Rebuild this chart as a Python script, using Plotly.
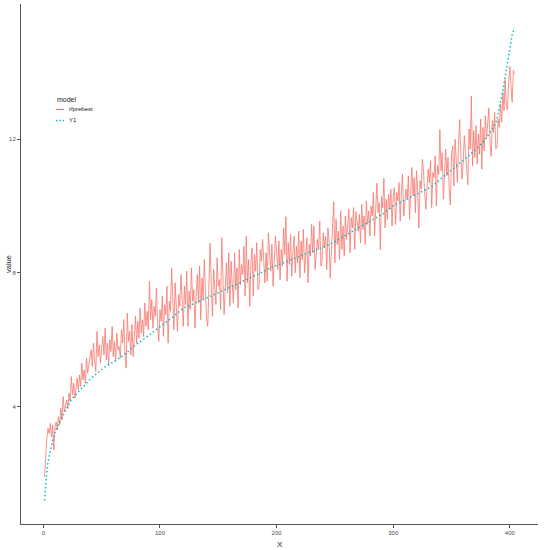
import plotly.graph_objects as go

# ---- data ----
y1_values = [
    1.20, 1.75, 2.05, 2.35, 2.55, 2.70, 2.85, 3.00, 3.15, 3.25,
    3.33, 3.40, 3.48, 3.55, 3.62, 3.70, 3.77, 3.84, 3.91, 3.98,
    4.05, 4.12, 4.18, 4.22, 4.26, 4.29, 4.33, 4.36, 4.40, 4.44,
    4.48, 4.52, 4.56, 4.60, 4.63, 4.67, 4.71, 4.75, 4.79,
    4.82, 4.85, 4.88, 4.91, 4.94, 4.96, 4.99, 5.02, 5.05, 5.08, 5.10, 5.13, 5.16, 5.19,
    5.21, 5.23, 5.25, 5.27, 5.29, 5.31, 5.33, 5.36, 5.38, 5.40, 5.42, 5.44, 5.46, 5.49,
    5.52, 5.55, 5.58, 5.61, 5.64, 5.66, 5.69, 5.72, 5.75, 5.78, 5.80, 5.83, 5.86, 5.89,
    5.92, 5.94, 5.97, 6.00, 6.02, 6.05, 6.07, 6.10, 6.12, 6.15, 6.17, 6.20, 6.22, 6.25, 6.27, 6.30,
    6.33, 6.35, 6.38, 6.41, 6.44, 6.47, 6.49, 6.52, 6.55, 6.58, 6.61, 6.63, 6.66, 6.69, 6.72,
    6.75, 6.77, 6.80, 6.83, 6.86, 6.89, 6.91, 6.94,
    6.96, 6.97, 6.99, 7.00, 7.02, 7.03, 7.05, 7.06, 7.08, 7.09, 7.11, 7.13, 7.14, 7.16, 7.17,
    7.19, 7.20, 7.22, 7.24, 7.25, 7.27, 7.28, 7.30, 7.31, 7.33, 7.34, 7.36, 7.37, 7.39,
    7.41, 7.42, 7.44, 7.46, 7.47, 7.49, 7.50, 7.52, 7.54, 7.55, 7.57, 7.58, 7.60, 7.62,
    7.63, 7.65, 7.66, 7.68, 7.70, 7.71, 7.73, 7.74, 7.76, 7.78, 7.79, 7.81, 7.82, 7.84,
    7.86, 7.88, 7.89, 7.91, 7.93, 7.95, 7.96, 7.98, 8.00, 8.02, 8.03, 8.05, 8.07, 8.09,
    8.10, 8.12, 8.14, 8.15,
    8.17, 8.18, 8.19, 8.21, 8.22, 8.24, 8.25, 8.26, 8.28, 8.29, 8.31, 8.32, 8.33, 8.35,
    8.36, 8.37, 8.39, 8.40, 8.41, 8.43, 8.44,
    8.45, 8.47, 8.48, 8.50, 8.51, 8.52, 8.54, 8.55, 8.57, 8.58, 8.59, 8.61, 8.62, 8.63,
    8.65, 8.66, 8.68, 8.69, 8.70, 8.72, 8.73, 8.74, 8.76, 8.77, 8.79, 8.80, 8.81, 8.83, 8.84,
    8.86, 8.88, 8.90, 8.92, 8.94, 8.96, 8.98, 9.00, 9.02, 9.04, 9.06, 9.07, 9.09, 9.11,
    9.13, 9.15, 9.17, 9.19, 9.21, 9.23, 9.25, 9.27, 9.29, 9.31, 9.33, 9.34, 9.36, 9.38,
    9.40, 9.42, 9.44, 9.46, 9.48, 9.50, 9.52, 9.54, 9.56, 9.58, 9.61, 9.63, 9.65, 9.67,
    9.69, 9.71, 9.73,
    9.76, 9.78, 9.81, 9.84, 9.87, 9.90, 9.92, 9.95, 9.98,
    10.00, 10.02, 10.03, 10.05, 10.07, 10.09, 10.10, 10.12, 10.14, 10.16, 10.17, 10.19,
    10.21, 10.23, 10.24, 10.26, 10.28,
    10.30, 10.31, 10.33, 10.35, 10.37, 10.38, 10.40, 10.42, 10.44, 10.45, 10.47, 10.49,
    10.51, 10.52, 10.54, 10.56, 10.58,
    10.61, 10.64, 10.67, 10.70, 10.73, 10.76, 10.79, 10.82, 10.85, 10.88, 10.90, 10.93,
    10.96, 10.99, 11.02, 11.05, 11.08,
    11.11, 11.14, 11.16, 11.19, 11.22, 11.25, 11.28, 11.30, 11.33, 11.36, 11.39, 11.42,
    11.44, 11.47, 11.50, 11.53, 11.55, 11.58,
    11.62, 11.65, 11.69, 11.73, 11.76, 11.80, 11.84, 11.87, 11.91, 11.95, 11.98,
    12.04, 12.09, 12.15, 12.20, 12.26, 12.31, 12.37, 12.42, 12.48,
    12.60, 12.75, 12.92, 13.08, 13.25, 13.43,
    13.65, 13.86, 14.07, 14.30, 14.54, 14.77, 14.95, 15.12, 15.22, 15.33,
]

rfprebest_values = [
    1.90, 2.55, 3.05, 3.35, 3.20, 3.50, 3.10, 3.45, 2.70, 3.40,
    3.55, 3.30, 3.70, 3.45, 3.95, 3.60, 4.30, 3.85, 4.00, 4.20,
    3.95, 4.40, 4.15, 4.90, 4.35, 4.70, 4.25, 4.60, 4.85, 4.50,
    4.95, 4.60, 5.30, 4.80, 5.10, 4.70, 5.45, 5.00, 5.25, 5.60,
    5.70, 5.20, 5.90, 5.35, 5.05, 6.25, 5.50, 5.85, 5.30, 5.75,
    6.10, 5.55, 6.35, 5.40, 5.90, 5.25, 6.00, 5.65, 6.40, 5.50,
    5.95, 5.35, 6.20, 5.70, 5.80, 5.45, 6.30, 5.90, 6.60, 5.60,
    5.15, 6.80, 5.95, 6.25, 5.55, 6.45, 5.50, 6.10, 6.70, 5.90,
    6.55, 6.05, 6.95, 6.20, 6.60, 6.10, 7.10, 6.40, 6.85, 6.30,
    7.75, 6.60, 7.20, 6.35, 7.00, 6.70, 7.55, 6.50, 5.95, 6.90,
    6.55, 7.30, 6.10, 7.05, 6.75, 7.60, 5.90, 7.15, 6.85, 8.15,
    7.40, 6.30, 7.70, 7.10, 6.25, 7.35, 7.00, 7.95, 6.95, 6.40,
    7.60, 7.05, 8.05, 6.40, 7.45, 6.90, 8.15, 7.15, 7.50, 6.35,
    7.30, 7.95, 7.10, 8.20, 6.60, 7.85, 7.20, 8.40, 7.45, 6.60,
    6.40, 7.50, 8.89, 7.65, 6.70, 8.10, 7.55, 7.05, 8.45, 7.60,
    7.80, 6.90, 9.05, 7.85, 6.75, 7.55, 8.30, 7.40, 8.60, 7.00,
    8.35, 7.60, 7.10, 8.60, 7.50, 8.15, 6.95, 8.70, 7.65, 8.25,
    7.95, 8.80, 7.30, 9.10, 7.70, 8.40, 7.00, 8.30, 8.75, 7.30,
    8.55, 8.05, 8.90, 7.50, 7.60, 8.70, 8.35, 9.00, 8.45, 7.70,
    8.60, 7.75, 9.20, 8.40, 8.05, 8.85, 7.60, 8.30, 9.10, 8.65,
    8.10, 8.95, 7.80, 8.70, 8.20, 9.35, 8.55, 9.68, 7.75, 8.90,
    8.25, 9.15, 7.90, 8.60, 9.10, 8.00, 8.80, 8.30, 9.25, 7.85,
    8.95, 8.40, 9.30, 8.00, 8.55, 9.05, 7.70, 8.85, 8.50, 9.45,
    8.60, 9.40, 8.10, 8.45, 9.00, 8.70, 9.55, 8.20, 8.35, 9.20,
    8.75, 9.10, 8.10, 9.35, 8.95, 7.85, 8.80, 9.45, 10.13, 8.30,
    9.60, 8.85, 9.25, 8.40, 9.85, 8.70, 9.40, 8.50, 9.70, 9.00,
    9.45, 9.90, 8.60, 9.65, 9.35, 9.95, 8.70, 9.83, 9.55, 9.25,
    9.75, 8.90, 10.05, 9.30, 9.70, 8.85, 10.15, 9.45, 9.85, 9.10,
    10.00, 9.70, 10.40, 9.10, 9.90, 10.68, 9.80, 10.10, 8.69, 10.28,
    9.95, 10.83, 9.35, 10.20, 9.60, 10.35, 9.90, 10.50, 9.40, 10.30,
    10.55, 9.45, 10.40, 10.15, 10.70, 9.55, 10.45, 10.95, 9.70, 10.10,
    10.50, 10.20, 10.90, 9.60, 10.45, 11.15, 10.30, 10.85, 9.80, 11.05,
    10.40, 9.34, 10.75, 10.50, 11.40, 11.03, 10.35, 9.90, 10.55, 11.10,
    10.70, 11.35, 9.95, 11.00, 10.85, 11.50, 10.00, 11.20, 10.95, 12.28,
    11.05, 11.60, 10.20, 11.30, 11.70, 10.90, 11.45, 10.50, 10.03, 11.55,
    11.80, 10.60, 12.00, 11.40, 10.70, 11.85, 12.58, 11.50, 10.80, 11.30,
    12.10, 11.60, 10.95, 10.63, 12.30, 11.70, 13.28, 11.20, 12.25, 11.45,
    12.40, 11.25, 12.15, 11.55, 12.60, 11.10, 12.35, 11.65, 12.70, 12.05,
    12.45, 12.93, 11.90, 11.48, 12.55, 12.20, 12.80, 11.70, 11.75, 12.60,
    12.35, 13.05, 12.50, 13.40, 12.85, 13.78, 13.00, 12.88, 13.72, 14.17,
    13.60, 13.10, 14.05, 13.95,
]

series_names = ["rfprebest", "Y1"]
series_colors = ["#F8766D", "#00BFC4"]
x_ticks = [0, 100, 200, 300, 400]
y_ticks = [4, 8, 12]

FONT = "Liberation Sans, Arial, sans-serif"

x_rf = list(range(1, len(rfprebest_values) + 1))
x_y1 = list(range(1, len(y1_values) + 1))

fig = go.Figure()
fig.add_trace(go.Scatter(
    x=x_rf, y=rfprebest_values, mode="lines", name=series_names[0],
    line=dict(color=series_colors[0], width=0.8),
))
fig.add_trace(go.Scatter(
    x=x_y1, y=y1_values, mode="lines", name=series_names[1],
    line=dict(color=series_colors[1], width=1.5, dash="1.5px,2.5px"),
))

# ggplot-like 5% expansion
all_y = rfprebest_values + y1_values
ymin, ymax = min(all_y), max(all_y)
ypad = 0.05 * (ymax - ymin)
n = max(len(x_rf), len(x_y1))
xpad = 0.05 * (n - 1)

axis_common = dict(
    showgrid=False, zeroline=False, showline=True, linecolor="#555555", linewidth=1,
    ticks="outside", ticklen=3, tickwidth=1, tickcolor="#555555",
    tickfont=dict(family=FONT, size=6, color="#4D4D4D"),
    mirror=False, automargin=False,
)

fig.update_layout(
    width=546, height=550,
    margin=dict(l=21, r=8, t=4, b=26),
    paper_bgcolor="white", plot_bgcolor="white",
    showlegend=False,
    hovermode=False,
    font=dict(family=FONT),
    xaxis=dict(range=[1 - xpad, n + xpad], tickvals=x_ticks,
               ticktext=[str(v) for v in x_ticks], **axis_common),
    yaxis=dict(range=[ymin - ypad, ymax + ypad], tickvals=y_ticks,
               ticktext=[str(v) for v in y_ticks], **axis_common),
)

# axis titles
fig.add_annotation(text="X", xref="paper", yref="paper", x=0.5, y=0,
                   yshift=-14, showarrow=False, yanchor="top",
                   font=dict(family=FONT, size=8, color="#222222"))
fig.add_annotation(text="value", xref="paper", yref="paper", x=0, y=0.5,
                   xshift=-13, showarrow=False, textangle=-90, xanchor="center",
                   font=dict(family=FONT, size=7.5, color="#222222"))

# legend drawn in ggplot style (short keys)
fig.add_annotation(text="model", xref="paper", yref="paper",
                   x=(55 - 21) / 517, y=1 - (99 - 4) / 520, xanchor="left", yanchor="middle",
                   showarrow=False, font=dict(family=FONT, size=7, color="#222222"))
legend_rows = [(109.5, series_names[0], series_colors[0], "solid", 1.0),
               (120.5, series_names[1], series_colors[1], "dot", 1.5)]
for py, label, col, dash, w in legend_rows:
    yp = 1 - (py - 4) / 520
    fig.add_shape(type="line", xref="paper", yref="paper",
                  x0=(56 - 21) / 517, x1=(64 - 21) / 517, y0=yp, y1=yp,
                  line=dict(color=col, width=w, dash="1.5px,2px" if dash == "dot" else "solid"))
    fig.add_annotation(text=label, xref="paper", yref="paper",
                       x=(67 - 21) / 517, y=yp, xanchor="left", yanchor="middle",
                       showarrow=False, font=dict(family=FONT, size=6, color="#222222"))

fig.write_html("out.html", config={"displayModeBar": False, "staticPlot": True},
               post_script="document.body.style.margin='0';")
